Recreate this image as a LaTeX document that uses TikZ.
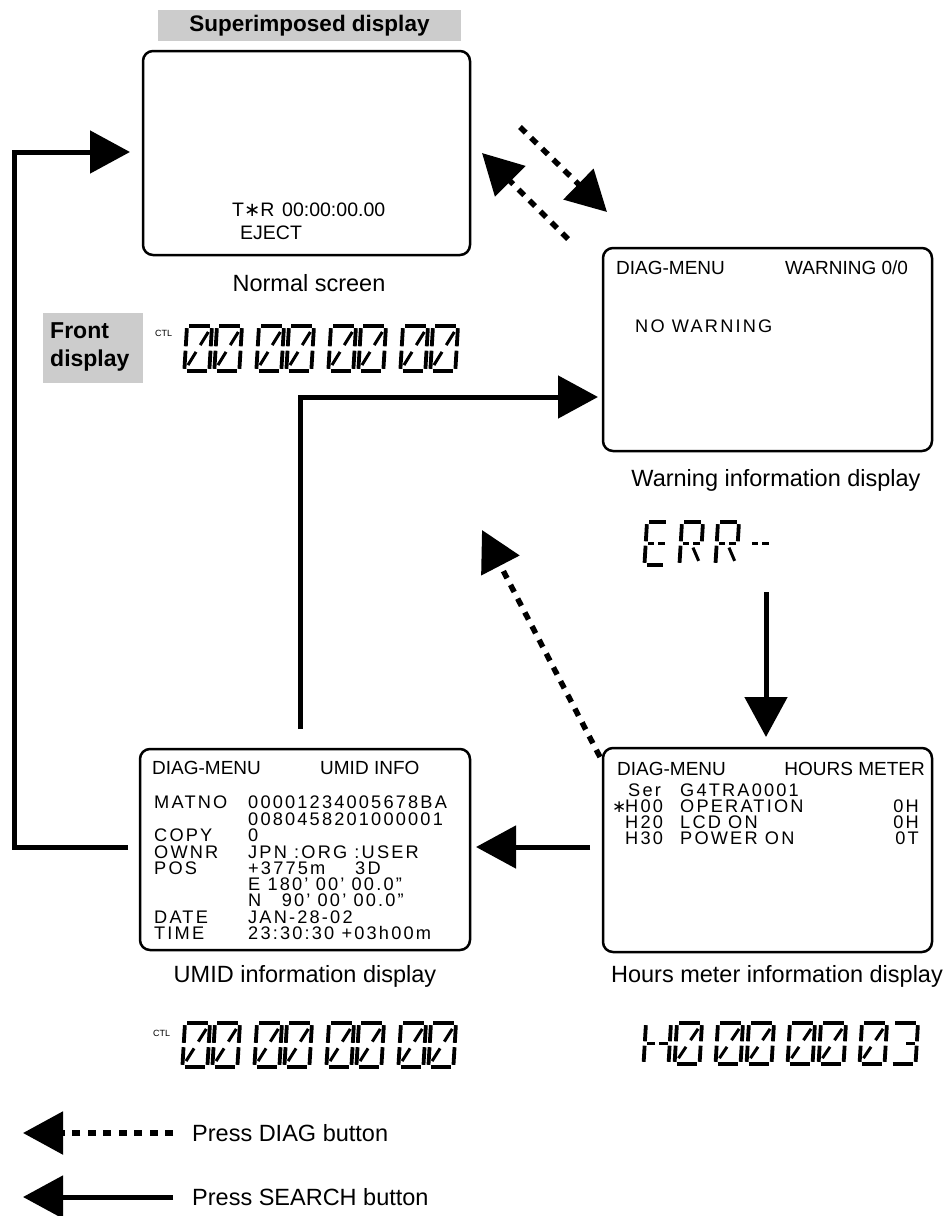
\documentclass[tikz,border=0pt]{standalone}
\usepackage{fontspec}
\setmainfont{Liberation Sans}
\newfontfamily\lcdfont{Liberation Sans}[LetterSpace=12]
\newfontfamily\djv{DejaVu Sans}
\usetikzlibrary{arrows.meta}
\definecolor{lgray}{HTML}{CCCCCC}
\tikzset{
 scr/.style={draw, line width=2.5pt, rounded corners=10pt, inner sep=0pt},
 conn/.style={line width=5pt, -{Triangle[length=40pt,width=42pt]}},
 dconn/.style={conn, line width=5.5pt, dash pattern=on 8pt off 7.5pt},
 lbl/.style={anchor=base, inner sep=0pt, font=\fontsize{23.5}{28}\selectfont},
 hdr/.style={anchor=base west, inner sep=0pt, font=\fontsize{19}{19}\selectfont},
 hdre/.style={hdr, anchor=base east},
 mono/.style={anchor=base west, inner sep=0pt, text height=13pt, text depth=0pt, font=\lcdfont\fontsize{18.2}{18.2}\selectfont},
 monoe/.style={mono, anchor=base east},
 scrtxt/.style={anchor=base west, inner sep=0pt, font=\fontsize{19.5}{19.5}\selectfont},
 ttl/.style={fill=lgray, inner sep=0pt, font=\bfseries\fontsize{22.5}{27}\selectfont},
 lcdseg/.style={line width=3.8pt, shorten <=2.2pt, shorten >=2.2pt},
 lcddiag/.style={line width=3pt, shorten <=4.5pt, shorten >=4.5pt},
 lcddiagc/.style={line width=3pt, shorten <=4pt, shorten >=7pt},
}
\newcommand\lcdSa{\draw[lcdseg] (0,0) -- (\LW,0);}
\newcommand\lcdSb{\draw[lcdseg] (\LW,0) -- (\LW,\LH/2);}
\newcommand\lcdSc{\draw[lcdseg] (\LW,\LH/2) -- (\LW,\LH);}
\newcommand\lcdSd{\draw[lcdseg] (0,\LH) -- (\LW,\LH);}
\newcommand\lcdSe{\draw[lcdseg] (0,\LH/2) -- (0,\LH);}
\newcommand\lcdSf{\draw[lcdseg] (0,0) -- (0,\LH/2);}
\newcommand\lcdSg{\draw[lcdseg] (0,\LH/2) -- (\LW/2,\LH/2);}
\newcommand\lcdSh{\draw[lcdseg] (\LW/2,\LH/2) -- (\LW,\LH/2);}
\newcommand\lcdSk{\draw[lcddiagc] (\LW/2,\LH/2) -- (\LW,0);}
\newcommand\lcdSn{\draw[lcddiagc] (\LW/2,\LH/2) -- (0,\LH);}
\newcommand\lcdSr{\draw[lcddiag] (\LW/2,\LH/2) -- (\LW,\LH);}
% x, y, width, height, segments
\newcommand\lcdchar[5]{%
 \begin{scope}[shift={(#1,#2)}, xslant=0.06]
  \def\LW{#3}\def\LH{#4}%
  \foreach \s in {#5}{\csname lcdS\s\endcsname}
 \end{scope}}
\begin{document}
\begin{tikzpicture}[x=1pt,y=-1pt]
\fill[white] (0,0) rectangle (948,1216);
\useasboundingbox (0,0) rectangle (948,1216);

% ---------- title boxes ----------
\node[ttl, minimum width=303pt, minimum height=31pt] (ttlsup) at (309.5,25.5) {Superimposed display};
\node[fill=lgray, minimum width=100pt, minimum height=70pt, inner sep=0pt] (ttlfrontbg) at (93,348) {};
\node[anchor=base west, inner sep=0pt, font=\bfseries\fontsize{23}{28}\selectfont] (ttlfront1) at (50,338) {Front};
\node[anchor=base west, inner sep=0pt, font=\bfseries\fontsize{23}{28}\selectfont] (ttlfront2) at (50,366) {display};

% ---------- screens ----------
\node[scr, minimum width=327pt, minimum height=204pt] (normal) at (306.5,153) {};
\node[scr, minimum width=329pt, minimum height=203pt] (warn) at (767.5,349.5) {};
\node[scr, minimum width=330pt, minimum height=201pt] (umid) at (305,849.5) {};
\node[scr, minimum width=329pt, minimum height=204pt] (hours) at (767.5,850) {};

% normal screen text
\node[scrtxt] (ntr) at (232,216) {T{\djv ∗}R};
\node[scrtxt] (ntc) at (282,216) {00:00:00.00};
\node[scrtxt] (nej) at (240,239) {EJECT};

% warning text
\node[hdr] (wh1) at (616,274) {DIAG-MENU};
\node[hdr] (wh2) at (785,274) {WARNING 0/0};
\node[mono] (wnw) at (635,332) {NO WARNING};

% umid text
\node[hdr] (uh1) at (152,774) {DIAG-MENU};
\node[hdr] (uh2) at (320,774) {UMID INFO};
\node[mono] (ul1) at (154,808.5) {MATNO};
\node[mono] (ur1) at (248,808.5) {00001234005678BA};
\node[mono] (ur2) at (248,825) {0080458201000001};
\node[mono] (ul3) at (154,841.5) {COPY};
\node[mono] (ur3) at (248,841.5) {0};
\node[mono] (ul4) at (154,858) {OWNR};
\node[mono] (ur4) at (248,858) {JPN :ORG :USER};
\node[mono] (ul5) at (154,874) {POS};
\node[mono] (ur5) at (248,874) {+3775m};
\node[mono] (ur5b) at (355,874) {3D};
\node[mono] (ur6) at (248,890) {E 180’ 00’ 00.0”};
\node[mono] (ur7a) at (248,906.5) {N};
\node[monoe] (ur7b) at (404,906.5) {90’ 00’ 00.0”};
\node[mono] (ul8) at (154,923) {DATE};
\node[mono] (ur8) at (248,923) {JAN-28-02};
\node[mono] (ul9) at (154,939.5) {TIME};
\node[mono] (ur9) at (248,939.5) {23:30:30 +03h00m};

% hours text
\node[hdr] (hh1) at (617,775) {DIAG-MENU};
\node[hdre] (hh2) at (925,775) {HOURS METER};
\node[mono] (hs1) at (628,796.5) {Ser};
\node[mono] (hs2) at (680,796.5) {G4TRA0001};
\node[anchor=base west, inner sep=0pt, font=\djv\fontsize{17}{17}\selectfont] (hast) at (612,812.5) {∗};
\node[mono] (ha1) at (625,812.5) {H00};
\node[mono] (ha2) at (680,812.5) {OPERATION};
\node[monoe] (ha3) at (919,812.5) {0H};
\node[mono] (hb1) at (625,828.5) {H20};
\node[mono] (hb2) at (680,828.5) {LCD ON};
\node[monoe] (hb3) at (919,828.5) {0H};
\node[mono] (hc1) at (625,844.5) {H30};
\node[mono] (hc2) at (680,844.5) {POWER ON};
\node[monoe] (hc3) at (919,844.5) {0T};

% ---------- captions ----------
\node[lbl] (capn) at (309,291.5) {Normal screen};
\node[lbl] (capw) at (776,486) {Warning information display};
\node[lbl] (capu) at (305,982) {UMID information display};
\node[lbl] (caph) at (777,982) {Hours meter information display};

% ---------- LCD readouts ----------
\node[anchor=base west, inner sep=0pt, font=\fontsize{9}{9}\selectfont] (ctl1) at (155,336) {CTL};
\foreach \p in {0,1,2,3}{\foreach \i in {0,1}{\lcdchar{187+72*\p+30*\i}{326}{25}{45}{a,b,c,d,e,f,k,n}}}
\node[anchor=base west, inner sep=0pt, font=\fontsize{9}{9}\selectfont] (ctl2) at (153,1036) {CTL};
\foreach \p in {0,1,2,3}{\foreach \i in {0,1}{\lcdchar{185+72*\p+30*\i}{1023}{25}{44}{a,b,c,d,e,f,k,n}}}
% H0 00 00 03
\lcdchar{646}{1023}{25}{41}{b,c,e,f,g,h}
\lcdchar{677}{1023}{25}{41}{a,b,c,d,e,f,k,n}
\foreach \p in {1,2}{\foreach \i in {0,1}{\lcdchar{646+72*\p+31*\i}{1023}{25}{41}{a,b,c,d,e,f,k,n}}}
\lcdchar{862}{1023}{25}{41}{a,b,c,d,e,f,k,n}
\lcdchar{893}{1023}{25}{41}{a,b,c,d,h}
% ERR-
\lcdchar{647}{522}{21}{43}{a,d,e,f,g,h}
\lcdchar{682}{522}{21}{43}{a,b,e,f,g,h,r}
\lcdchar{718}{522}{21}{43}{a,b,e,f,g,h,r}
\lcdchar{751}{522}{21}{43}{g,h}

% ---------- connectors ----------
\coordinate (s1) at (128,847); \coordinate (k1) at (14,152); \coordinate (t1) at (130,152);
\draw[conn] (s1) -| (k1) -- (t1);
\coordinate (s2) at (300,729); \coordinate (k2) at (300,397); \coordinate (t2) at (598,397);
\draw[conn] (s2) -- (k2) -- (t2);
\coordinate (s3) at (766,592); \coordinate (t3) at (766,737);
\draw[conn] (s3) -- (t3);
\coordinate (s4) at (590,847); \coordinate (t4) at (476,847);
\draw[conn] (s4) -- (t4);
\coordinate (s5) at (600,757); \coordinate (t5) at (482,530);
\draw[dconn] (s5) -- (t5);
\coordinate (s6) at (520,127); \coordinate (t6) at (607,212);
\draw[dconn] (s6) -- (t6);
\coordinate (s7) at (568,239); \coordinate (t7) at (482,153);
\draw[dconn] (s7) -- (t7);

% ---------- legend ----------
\coordinate (s8) at (173,1133); \coordinate (t8) at (23,1133);
\draw[dconn] (s8) -- (t8);
\node[anchor=base west, inner sep=0pt, font=\fontsize{23.5}{28}\selectfont] (leg1) at (192,1141) {Press DIAG button};
\coordinate (s9) at (173,1197); \coordinate (t9) at (23,1197);
\draw[conn] (s9) -- (t9);
\node[anchor=base west, inner sep=0pt, font=\fontsize{23.5}{28}\selectfont] (leg2) at (192,1205) {Press SEARCH button};
\end{tikzpicture}
\end{document}
